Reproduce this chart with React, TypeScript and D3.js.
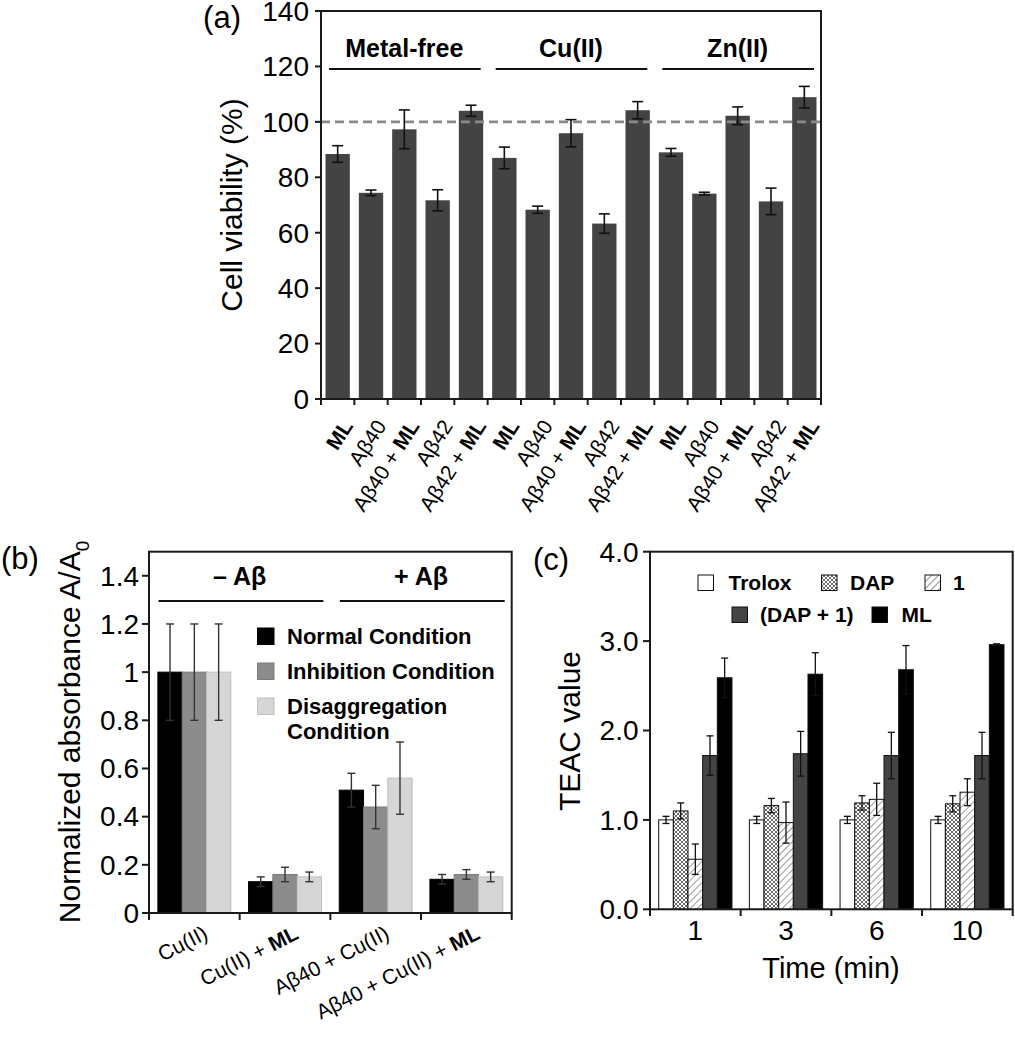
import React from "react";
import * as d3 from "d3";

const FONT = "'Liberation Sans', Arial, Helvetica, sans-serif";

// ---------- Panel (a) ----------
const aGroups = ["Metal-free", "Cu(II)", "Zn(II)"];
const aCategories = ["ML", "Aβ40", "Aβ40 + ML", "Aβ42", "Aβ42 + ML"];
const aValues = [88.4, 74.4, 97.3, 71.7, 104.0, 87.0, 68.3, 95.9, 63.3, 104.2, 89.0, 74.1, 102.2, 71.3, 108.9];
const aErrors = [3.0, 1.0, 7.0, 3.8, 2.0, 3.9, 1.3, 4.9, 3.5, 3.1, 1.4, 0.5, 3.2, 4.8, 3.9];
const aTicks = [0, 20, 40, 60, 80, 100, 120, 140];
const aReference = 100;

// ---------- Panel (b) ----------
const bCategories = ["Cu(II)", "Cu(II) + ML", "Aβ40 + Cu(II)", "Aβ40 + Cu(II) + ML"];
const bGroupLabels = ["– Aβ", "+ Aβ"];
const bSeries = ["Normal Condition", "Inhibition Condition", "Disaggregation Condition"];
const bNormal = [1.0, 0.13, 0.51, 0.14];
const bInhibition = [1.0, 0.16, 0.44, 0.16];
const bDisaggregation = [1.0, 0.15, 0.56, 0.15];
const bNormalErr = [0.2, 0.02, 0.07, 0.02];
const bInhibitionErr = [0.2, 0.03, 0.09, 0.02];
const bDisaggregationErr = [0.2, 0.02, 0.15, 0.02];
const bTicks = [0, 0.2, 0.4, 0.6, 0.8, 1, 1.2, 1.4];

// ---------- Panel (c) ----------
const cTimes = ["1", "3", "6", "10"];
const cSeries = ["Trolox", "DAP", "1", "(DAP + 1)", "ML"];
const cTrolox = [1.0, 1.0, 1.0, 1.0];
const cDAP = [1.1, 1.16, 1.19, 1.18];
const cOne = [0.56, 0.97, 1.23, 1.31];
const cDAPOne = [1.72, 1.74, 1.72, 1.72];
const cML = [2.59, 2.63, 2.68, 2.96];
const cTroloxErr = [0.04, 0.04, 0.04, 0.04];
const cDAPErr = [0.09, 0.08, 0.08, 0.09];
const cOneErr = [0.17, 0.23, 0.18, 0.15];
const cDAPOneErr = [0.22, 0.25, 0.26, 0.26];
const cMLErr = [0.22, 0.24, 0.27, 0.01];
const cTicks = [0, 1, 2, 3, 4];

function Rich({ text }: { text: string }) {
  const parts = text.split(/(ML)/).filter((p) => p.length > 0);
  return (
    <>
      {parts.map((p, i) => (
        <tspan key={i} fontWeight={p === "ML" ? "bold" : "normal"}>
          {p}
        </tspan>
      ))}
    </>
  );
}

function ErrBar({ x, y0, y1, cap, color, w }: any) {
  return (
    <g stroke={color} strokeWidth={w}>
      <line x1={x} x2={x} y1={y0} y2={y1} />
      <line x1={x - cap / 2} x2={x + cap / 2} y1={y0} y2={y0} />
      <line x1={x - cap / 2} x2={x + cap / 2} y1={y1} y2={y1} />
    </g>
  );
}

export default function App() {
  const axisColor = "#1a1a1a";

  // ---- Panel (a) scales
  const aIdx = d3.range(aValues.length);
  const aX = d3.scaleBand<number>().domain(aIdx).range([321, 821]).paddingInner(0.27).paddingOuter(0.135);
  const aY = d3.scaleLinear().domain([0, 140]).range([399, 11]);
  const aStep = aX.step();
  const aBoundary = (i: number) => (i < aValues.length ? (aX(i) as number) - (aStep * 0.27) / 2 : 821);

  // ---- Panel (b) scales
  const bX = d3.scaleBand<string>().domain(bCategories).range([149, 511.7]).paddingInner(0.196).paddingOuter(0.098);
  const bSub = d3.scaleBand<number>().domain([0, 1, 2]).range([0, bX.bandwidth()]);
  const bY = d3.scaleLinear().domain([0, 1.5]).range([913, 551.7]);
  const bVals = [bNormal, bInhibition, bDisaggregation];
  const bErrs = [bNormalErr, bInhibitionErr, bDisaggregationErr];
  const bFill = ["#000000", "#8c8c8c", "#d6d6d6"];
  const bStroke = ["#000000", "#7a7a7a", "#bdbdbd"];
  const bBoundary = (i: number) => (i < bCategories.length ? (bX(bCategories[i]) as number) - (bX.step() * 0.196) / 2 : 511.7);

  // ---- Panel (c) scales
  const cX = d3.scaleBand<string>().domain(cTimes).range([650, 1012.7]).paddingInner(0.192).paddingOuter(0.096);
  const cSub = d3.scaleBand<number>().domain([0, 1, 2, 3, 4]).range([0, cX.bandwidth()]);
  const cY = d3.scaleLinear().domain([0, 4]).range([909.3, 551.7]);
  const cVals = [cTrolox, cDAP, cOne, cDAPOne, cML];
  const cErrs = [cTroloxErr, cDAPErr, cOneErr, cDAPOneErr, cMLErr];
  const cFill = ["#ffffff", "url(#checker)", "url(#hatch)", "#444444", "#000000"];
  const cBoundary = (i: number) => (i < cTimes.length ? (cX(cTimes[i]) as number) - (cX.step() * 0.192) / 2 : 1012.7);

  return (
    <svg
      width={1015}
      height={1050}
      style={{ position: "absolute", left: 0, top: 0, background: "#fff" }}
      fontFamily={FONT}
    >
      <defs>
        <pattern id="checker" width="4" height="4" patternUnits="userSpaceOnUse">
          <rect width="4" height="4" fill="#ffffff" />
          <path d="M0,0 L4,4 M4,0 L0,4" stroke="#444" strokeWidth="0.8" />
        </pattern>
        <pattern id="hatch" width="5" height="5" patternUnits="userSpaceOnUse" patternTransform="rotate(45)">
          <rect width="5" height="5" fill="#ffffff" />
          <line x1="0" y1="0" x2="0" y2="5" stroke="#555" strokeWidth="1.2" />
        </pattern>
      </defs>
      <rect width={1015} height={1050} fill="#fff" />

      {/* ================= Panel (a) ================= */}
      <g>
        <text x={241} y={28} fontSize={31} textAnchor="end">(a)</text>
        {aValues.map((v, i) => (
          <rect key={i} x={aX(i)} y={aY(v)} width={aX.bandwidth()} height={aY(0) - aY(v)} fill="#434343" />
        ))}
        {aValues.map((v, i) => (
          <ErrBar key={i} x={(aX(i) as number) + aX.bandwidth() / 2} y0={aY(v + aErrors[i])} y1={aY(v - aErrors[i])} cap={11} color="#111" w={1.6} />
        ))}
        <line x1={321} x2={821} y1={aY(aReference)} y2={aY(aReference)} stroke="#8a8a8a" strokeWidth={2.6} strokeDasharray="9 5" />
        {aGroups.map((g, gi) => {
          const s = aBoundary(gi * 5);
          const e = aBoundary(gi * 5 + 5);
          return (
            <g key={g}>
              <text x={(s + e) / 2} y={57} fontSize={25} fontWeight="bold" textAnchor="middle">{g}</text>
              <line x1={s + 8} x2={e - 7} y1={69} y2={69} stroke="#111" strokeWidth={2.2} />
            </g>
          );
        })}
        <rect x={321} y={11} width={500} height={388} fill="none" stroke={axisColor} strokeWidth={2} />
        {aTicks.map((t) => (
          <g key={t}>
            <line x1={315} x2={321} y1={aY(t)} y2={aY(t)} stroke={axisColor} strokeWidth={2} />
            <text x={309} y={aY(t)} dy="0.35em" fontSize={28} textAnchor="end">{t}</text>
          </g>
        ))}
        {d3.range(aValues.length + 1).map((i) => (
          <line key={i} x1={aBoundary(i)} x2={aBoundary(i)} y1={399} y2={405} stroke={axisColor} strokeWidth={2} />
        ))}
        {aValues.map((_, i) => {
          const cx = (aX(i) as number) + aX.bandwidth() / 2 + 16;
          const cy = 426;
          return (
            <text key={i} x={cx} y={cy} fontSize={21} textAnchor="end" transform={`rotate(-57, ${cx}, ${cy})`}>
              <Rich text={aCategories[i % 5]} />
            </text>
          );
        })}
        <text transform="translate(242,205) rotate(-90)" fontSize={30} textAnchor="middle">Cell viability (%)</text>
      </g>

      {/* ================= Panel (b) ================= */}
      <g>
        <text x={1} y={569} fontSize={31}>(b)</text>
        {bCategories.map((c, ci) =>
          bVals.map((vals, si) => (
            <rect
              key={`${ci}-${si}`}
              x={(bX(c) as number) + (bSub(si) as number)}
              y={bY(vals[ci])}
              width={bSub.bandwidth()}
              height={bY(0) - bY(vals[ci])}
              fill={bFill[si]}
              stroke={bStroke[si]}
              strokeWidth={1}
            />
          ))
        )}
        {bCategories.map((c, ci) =>
          bVals.map((vals, si) => (
            <ErrBar
              key={`${ci}-${si}`}
              x={(bX(c) as number) + (bSub(si) as number) + bSub.bandwidth() / 2}
              y0={bY(vals[ci] + bErrs[si][ci])}
              y1={bY(vals[ci] - bErrs[si][ci])}
              cap={8}
              color="#333"
              w={1.4}
            />
          ))
        )}
        {bGroupLabels.map((g, gi) => {
          const s = bBoundary(gi * 2);
          const e = bBoundary(gi * 2 + 2);
          return (
            <g key={g}>
              <text x={(s + e) / 2} y={585} fontSize={25} fontWeight="bold" textAnchor="middle">{g}</text>
              <line x1={s + 9.5} x2={e - 7} y1={601} y2={601} stroke="#111" strokeWidth={2.2} />
            </g>
          );
        })}
        {bSeries.map((s, si) => (
          <g key={s}>
            <rect x={257.5} y={628 + si * 35} width={16.5} height={16.5} fill={bFill[si]} stroke={bStroke[si]} strokeWidth={1} />
            {si < 2 ? (
              <text x={287} y={643.5 + si * 35} fontSize={22} fontWeight="bold">{s}</text>
            ) : (
              <text x={287} y={643.5 + si * 35} fontSize={22} fontWeight="bold">
                <tspan x={287}>{s.split(" ")[0]}</tspan>
                <tspan x={287} dy={25.5}>{s.split(" ")[1]}</tspan>
              </text>
            )}
          </g>
        ))}
        <rect x={149} y={551.7} width={362.7} height={361.3} fill="none" stroke={axisColor} strokeWidth={2} />
        {bTicks.map((t) => (
          <g key={t}>
            <line x1={142} x2={149} y1={bY(t)} y2={bY(t)} stroke={axisColor} strokeWidth={2} />
            <text x={139} y={bY(t)} dy="0.35em" fontSize={28} textAnchor="end">{d3.format("~g")(t)}</text>
          </g>
        ))}
        {d3.range(bCategories.length + 1).map((i) => (
          <line key={i} x1={bBoundary(i)} x2={bBoundary(i)} y1={913} y2={920} stroke={axisColor} strokeWidth={2} />
        ))}
        {bCategories.map((c) => {
          const cx = (bX(c) as number) + bX.bandwidth() / 2 + 15;
          const cy = 938;
          return (
            <text key={c} x={cx} y={cy} fontSize={21} textAnchor="end" transform={`rotate(-27, ${cx}, ${cy})`}>
              <Rich text={c} />
            </text>
          );
        })}
        <text transform="translate(80,732) rotate(-90)" fontSize={30} textAnchor="middle">
          Normalized absorbance A/A<tspan dy={9} fontSize={19}>0</tspan>
        </text>
      </g>

      {/* ================= Panel (c) ================= */}
      <g>
        <text x={533} y={570} fontSize={31}>(c)</text>
        {cTimes.map((t, ti) =>
          cVals.map((vals, si) => (
            <rect
              key={`${ti}-${si}`}
              x={(cX(t) as number) + (cSub(si) as number)}
              y={cY(vals[ti])}
              width={cSub.bandwidth()}
              height={cY(0) - cY(vals[ti])}
              fill={cFill[si]}
              stroke="#111"
              strokeWidth={1}
            />
          ))
        )}
        {cTimes.map((t, ti) =>
          cVals.map((vals, si) => (
            <ErrBar
              key={`${ti}-${si}`}
              x={(cX(t) as number) + (cSub(si) as number) + cSub.bandwidth() / 2}
              y0={cY(vals[ti] + cErrs[si][ti])}
              y1={cY(vals[ti] - cErrs[si][ti])}
              cap={7}
              color="#111"
              w={1.3}
            />
          ))
        )}
        {[
          { si: 0, sx: 698, tx: 728.5, row: 0 },
          { si: 1, sx: 821.5, tx: 850, row: 0 },
          { si: 2, sx: 925, tx: 953, row: 0 },
          { si: 3, sx: 732, tx: 760, row: 1 },
          { si: 4, sx: 872, tx: 901.5, row: 1 },
        ].map((l) => (
          <g key={l.si}>
            <rect x={l.sx} y={575 + l.row * 32} width={15.5} height={15.5} fill={cFill[l.si]} stroke="#111" strokeWidth={1} />
            <text x={l.tx} y={590 + l.row * 32} fontSize={21} fontWeight="bold">{cSeries[l.si]}</text>
          </g>
        ))}
        <rect x={650} y={551.7} width={362.7} height={357.6} fill="none" stroke={axisColor} strokeWidth={2} />
        {cTicks.map((t) => (
          <g key={t}>
            <line x1={643} x2={650} y1={cY(t)} y2={cY(t)} stroke={axisColor} strokeWidth={2} />
            <text x={638.5} y={cY(t)} dy="0.35em" fontSize={28} textAnchor="end">{d3.format(".1f")(t)}</text>
          </g>
        ))}
        {d3.range(cTimes.length + 1).map((i) => (
          <line key={i} x1={cBoundary(i)} x2={cBoundary(i)} y1={909.3} y2={916} stroke={axisColor} strokeWidth={2} />
        ))}
        {cTimes.map((t) => (
          <text key={t} x={(cX(t) as number) + cX.bandwidth() / 2} y={939.5} fontSize={28} textAnchor="middle">{t}</text>
        ))}
        <text x={831} y={978} fontSize={29} textAnchor="middle">Time (min)</text>
        <text transform="translate(580,731) rotate(-90)" fontSize={30} textAnchor="middle">TEAC value</text>
      </g>
    </svg>
  );
}
